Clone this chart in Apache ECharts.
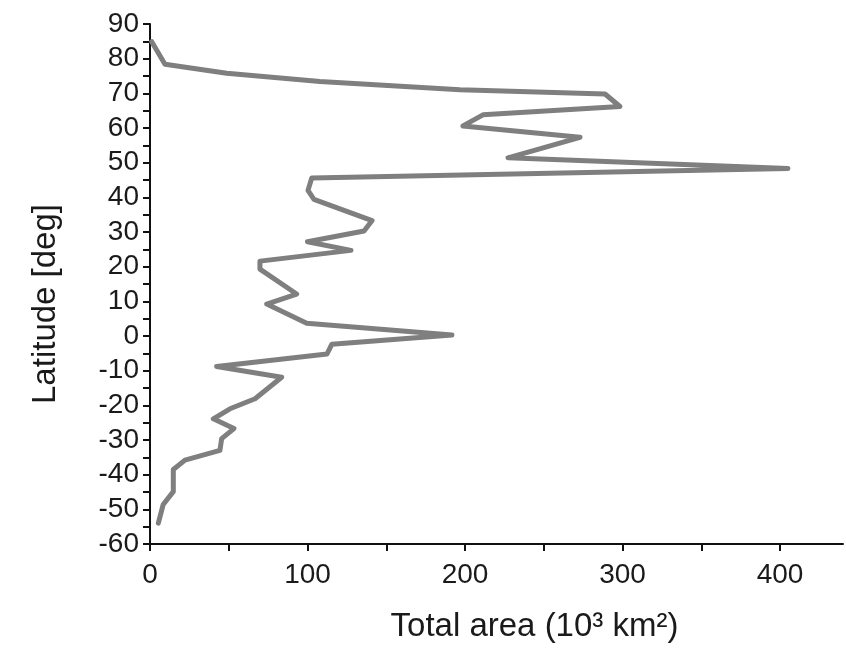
<!DOCTYPE html>
<html>
<head>
<meta charset="utf-8">
<title>Total area by latitude</title>
<script src="https://cdn.jsdelivr.net/npm/echarts@6/dist/echarts.min.js"></script>
<style>
  html, body { margin: 0; padding: 0; background: #fff; }
  #chart { width: 846px; height: 648px; }
</style>
</head>
<body>
<div id="chart"></div>
<script>
// values, from north to south
const latitudes = [84.9, 78.4, 75.8, 73.4, 71.0, 69.8, 66.2, 63.8, 60.6, 57.3,
  51.4, 48.3, 45.6, 42.0, 39.4, 33.3, 30.3, 27.2, 24.7, 21.6,
  19.3, 12.1, 9.2, 3.7, 0.3, -2.4, -5.2, -8.8, -11.9, -18.1,
  -21.0, -23.9, -26.7, -29.6, -33.0, -35.8, -38.5, -44.9, -48.6, -54.0]
const totalArea = [1.1, 9.5, 48.7, 107.9, 196.8, 288.9, 298.4, 211.4, 198.7, 273.0,
  227.3, 405.0, 102.7, 100.3, 104.1, 141.0, 135.9, 100.0, 127.6, 69.8,
  69.8, 93.1, 74.1, 99.5, 191.7, 115.4, 112.4, 42.3, 83.6, 66.7,
  50.8, 40.2, 53.3, 45.5, 44.4, 22.2, 14.8, 14.8, 8.4, 5.3]
const xLabelValues = [0, 100, 200, 300, 400]
const xTickValues = [0, 50, 100, 150, 200, 250, 300, 350, 400]

const chart = echarts.init(document.getElementById('chart'))
const font = '"Liberation Sans", Arial, sans-serif'

chart.setOption({
  animation: false,
  grid: { left: 150, right: 3, top: 24, bottom: 102 },
  xAxis: {
    type: 'value',
    min: 0,
    max: 440,
    name: 'Total area (10³ km²)',
    nameLocation: 'middle',
    nameGap: 66,
    nameTextStyle: { fontFamily: font, fontSize: 33, color: '#1a1a1a', padding: [0, 0, 0, 76] },
    axisLine: { show: true, onZero: false, lineStyle: { color: '#111', width: 2 } },
    axisTick: { show: true, customValues: xTickValues, length: 7, lineStyle: { color: '#111', width: 2 } },
    axisLabel: { customValues: xLabelValues, margin: 17, fontFamily: font, fontSize: 28, color: '#1a1a1a' },
    splitLine: { show: false }
  },
  yAxis: {
    type: 'value',
    min: -60,
    max: 90,
    interval: 10,
    name: 'Latitude [deg]',
    nameLocation: 'middle',
    nameGap: 88,
    nameTextStyle: { fontFamily: font, fontSize: 33, color: '#1a1a1a', padding: [0, 40, 0, 0] },
    axisLine: { show: true, onZero: false, lineStyle: { color: '#111', width: 2 } },
    axisTick: { show: true, length: 7, lineStyle: { color: '#111', width: 2 } },
    minorTick: { show: true, splitNumber: 2, length: 7, lineStyle: { color: '#111', width: 2 } },
    axisLabel: { margin: 11, fontFamily: font, fontSize: 28, color: '#1a1a1a' },
    splitLine: { show: false },
    minorSplitLine: { show: false }
  },
  series: [{
    type: 'line',
    data: latitudes.map((lat, i) => [totalArea[i], lat]),
    showSymbol: false,
    symbol: 'none',
    smooth: false,
    lineStyle: { color: '#7f7f7f', width: 5, cap: 'round', join: 'round' }
  }]
})
</script>
</body>
</html>
